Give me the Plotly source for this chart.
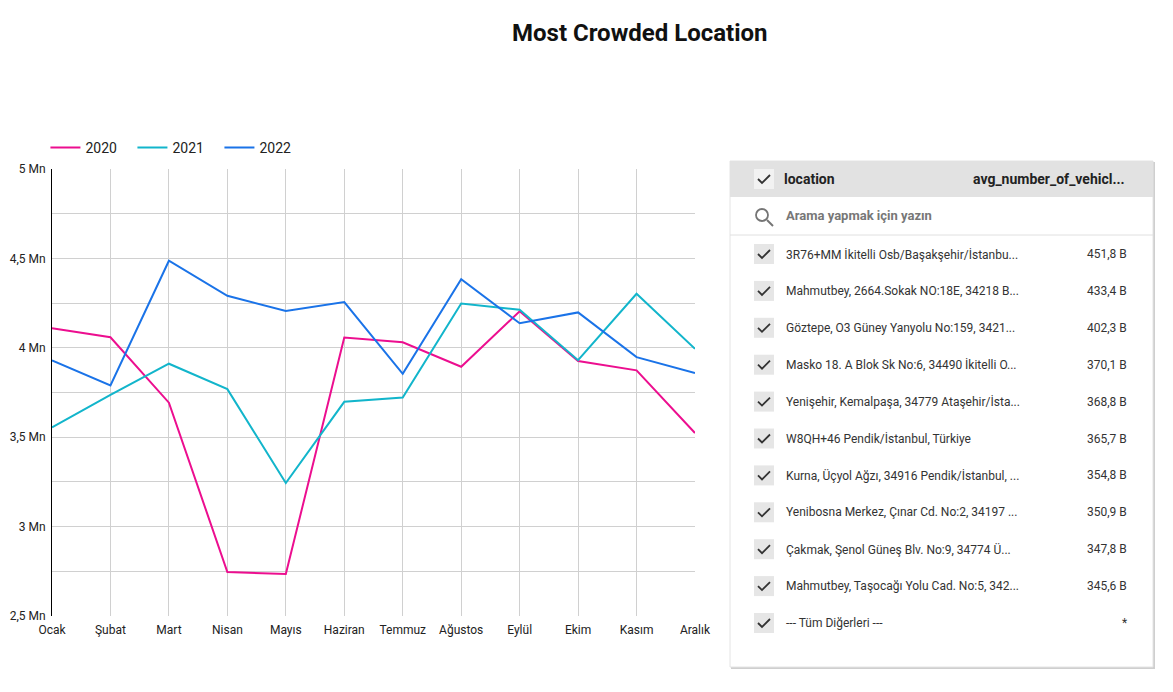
import plotly.graph_objects as go

months = ['Ocak', 'Şubat', 'Mart', 'Nisan', 'Mayıs', 'Haziran',
          'Temmuz', 'Ağustos', 'Eylül', 'Ekim', 'Kasım', 'Aralık']
years = ['2020', '2021', '2022']
vals_2020 = [4.109, 4.059, 3.693, 2.746, 2.735, 4.057, 4.031, 3.894, 4.204, 3.926, 3.874, 3.523]
vals_2021 = [3.555, 3.737, 3.911, 3.769, 3.244, 3.698, 3.722, 4.248, 4.213, 3.931, 4.302, 3.994]
vals_2022 = [3.930, 3.790, 4.487, 4.291, 4.206, 4.256, 3.854, 4.383, 4.137, 4.198, 3.948, 3.859]
colors = ['#EC0E8F', '#12B5CB', '#1A73E8']

y_ticks = [2.5, 2.75, 3.0, 3.25, 3.5, 3.75, 4.0, 4.25, 4.5, 4.75, 5.0]
y_labels = ['2,5 Mn', '', '3 Mn', '', '3,5 Mn', '', '4 Mn', '', '4,5 Mn', '', '5 Mn']

locations = ['3R76+MM İkitelli Osb/Başakşehir/İstanbu...',
             'Mahmutbey, 2664.Sokak NO:18E, 34218 B...',
             'Göztepe, O3 Güney Yanyolu No:159, 3421...',
             'Masko 18. A Blok Sk No:6, 34490 İkitelli O...',
             'Yenişehir, Kemalpaşa, 34779 Ataşehir/İsta...',
             'W8QH+46 Pendik/İstanbul, Türkiye',
             'Kurna, Üçyol Ağzı, 34916 Pendik/İstanbul, ...',
             'Yenibosna Merkez, Çınar Cd. No:2, 34197 ...',
             'Çakmak, Şenol Güneş Blv. No:9, 34774 Ü...',
             'Mahmutbey, Taşocağı Yolu Cad. No:5, 342...',
             '--- Tüm Diğerleri ---']
avg_vehicles = ['451,8 B', '433,4 B', '402,3 B', '370,1 B', '368,8 B', '365,7 B',
                '354,8 B', '350,9 B', '347,8 B', '345,6 B', '*']

# page body has an 8px margin, so work in screen pixels and subtract it;
# keep the figure a bit smaller than the window so no scrollbars appear
OFF = 8
W, H = 1173 - 2 * OFF - 6, 666
ML, MR, MT, MB = 52 - OFF, 12, 169 - OFF, H - (616 - OFF)
PW, PH = W - ML - MR, H - MT - MB


def px(x):
    return (x - OFF - ML) / PW


def py(y):
    return (H - MB - (y - OFF)) / PH


fig = go.Figure()
for name, vals, col in zip(years, [vals_2020, vals_2021, vals_2022], colors):
    fig.add_trace(go.Scatter(x=months, y=vals, name=name, mode='lines',
                             line=dict(color=col, width=2)))

shapes = []
annotations = []

# title
annotations.append(dict(x=px(640), y=py(33), xref='paper', yref='paper', text='<b>Most Crowded Location</b>',
                        showarrow=False, font=dict(size=24, color='#111'), xanchor='center', yanchor='middle'))

# table panel
TL, TR, TT, TB = 730, 1153, 161, 667
shapes.append(dict(type='rect', xref='paper', yref='paper', x0=px(TL + 1), x1=px(TR + 2), y0=py(TB + 2), y1=py(TT + 1),
                   fillcolor='#cfcfcf', line=dict(width=0), layer='below'))
shapes.append(dict(type='rect', xref='paper', yref='paper', x0=px(TL), x1=px(TR), y0=py(TB), y1=py(TT),
                   fillcolor='white', line=dict(color='#e4e4e4', width=1), layer='below'))
shapes.append(dict(type='rect', xref='paper', yref='paper', x0=px(TL), x1=px(TR), y0=py(197), y1=py(TT),
                   fillcolor='#e2e2e2', line=dict(width=0), layer='below'))
shapes.append(dict(type='line', xref='paper', yref='paper', x0=px(TL), x1=px(TR), y0=py(235), y1=py(235),
                   line=dict(color='#e0e0e0', width=1)))


def checkbox(cy, fill):
    shapes.append(dict(type='rect', xref='paper', yref='paper', x0=px(754), x1=px(774), y0=py(cy + 10), y1=py(cy - 10),
                       fillcolor=fill, line=dict(width=0)))
    path = 'M {} {} L {} {} L {} {}'.format(px(758), py(cy), px(762), py(cy + 4), px(770), py(cy - 4))
    shapes.append(dict(type='path', xref='paper', yref='paper', path=path, line=dict(color='#333', width=1.8)))


checkbox(179, '#f2f2f2')
annotations.append(dict(x=px(782), y=py(179), xref='paper', yref='paper', text='<b>location</b>', showarrow=False,
                        font=dict(size=14, color='#222'), xanchor='left', yanchor='middle'))
annotations.append(dict(x=px(1127), y=py(179), xref='paper', yref='paper', text='<b>avg_number_of_vehicl...</b>',
                        showarrow=False, font=dict(size=14, color='#222'), xanchor='right', yanchor='middle'))

# search row
shapes.append(dict(type='circle', xref='paper', yref='paper', x0=px(756), x1=px(768), y0=py(221), y1=py(209),
                   line=dict(color='#757575', width=1.8)))
shapes.append(dict(type='line', xref='paper', yref='paper', x0=px(767), x1=px(773), y0=py(220), y1=py(226),
                   line=dict(color='#757575', width=2)))
annotations.append(dict(x=px(784), y=py(215), xref='paper', yref='paper', text='<b>Arama yapmak için yazın</b>',
                        showarrow=False, font=dict(size=13, color='#777'), xanchor='left', yanchor='middle'))

for i, (loc, v) in enumerate(zip(locations, avg_vehicles)):
    cy = 254 + i * 36.9
    checkbox(cy, '#e6e6e6')
    annotations.append(dict(x=px(784), y=py(cy), xref='paper', yref='paper', text=loc, showarrow=False,
                            font=dict(size=12, color='#333'), xanchor='left', yanchor='middle'))
    annotations.append(dict(x=px(1129), y=py(cy), xref='paper', yref='paper', text=v, showarrow=False,
                            font=dict(size=12, color='#333'), xanchor='right', yanchor='middle'))

fig.update_layout(
    width=W, height=H,
    margin=dict(l=ML, r=MR, t=MT, b=MB, autoexpand=False),
    paper_bgcolor='white', plot_bgcolor='white',
    font=dict(family='Roboto', size=12, color='#222'),
    showlegend=True,
    legend=dict(orientation='h', x=-0.006, xanchor='left', y=py(148), yanchor='middle',
                font=dict(size=14, color='#222'), tracegroupgap=0,
                entrywidth=42, entrywidthmode='pixels'),
    xaxis=dict(domain=[0, px(695)], range=[0, 11], showgrid=True, gridcolor='#d0d0d0', gridwidth=1,
               zeroline=False, showline=False, ticks='', ticklabelstandoff=5,
               tickfont=dict(size=12, color='#222'), fixedrange=True),
    yaxis=dict(range=[2.5, 5], tickvals=y_ticks, ticktext=y_labels, showgrid=True, gridcolor='#d0d0d0',
               zeroline=False, showline=True, linecolor='#000', linewidth=1, ticks='', ticklabelstandoff=3,
               tickfont=dict(size=12, color='#222'), fixedrange=True),
    shapes=shapes, annotations=annotations,
)

fig.write_html("out.html")
